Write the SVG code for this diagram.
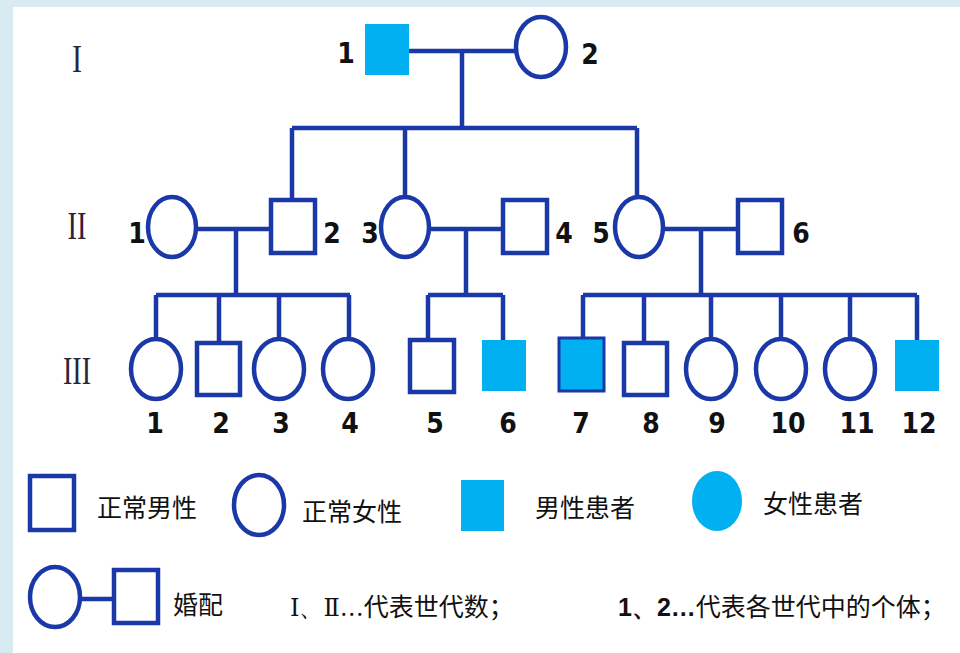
<svg xmlns="http://www.w3.org/2000/svg" width="960" height="653" viewBox="0 0 960 653">
<defs>
<style>
.ln{stroke:#1A38A8;stroke-width:4.5;fill:none}
.n{fill:#fff;stroke:#1A38A8;stroke-width:4.5}
.a{fill:#00B0F0}
.as{fill:#00B0F0;stroke:#1A38A8;stroke-width:3}
.num{font-family:"DejaVu Sans Condensed","Liberation Sans",sans-serif;font-stretch:condensed;font-weight:bold;font-size:28px;fill:#111;text-anchor:middle}
.rom{font-family:"Liberation Serif",serif;font-size:40px;fill:#2a2438;text-anchor:middle}
.lg{font-family:"Noto Sans CJK SC",sans-serif;font-size:25px;fill:#111}
</style>
</defs>
<rect width="960" height="653" fill="#D8EBF3"/>
<rect x="13" y="7" width="947" height="646" fill="#FFFFFF"/>

<g id="gen-labels">
<text class="rom" x="77" y="72" textLength="10" lengthAdjust="spacingAndGlyphs">I</text>
<text class="rom" x="77" y="239" textLength="19" lengthAdjust="spacingAndGlyphs">II</text>
<text class="rom" x="77" y="384" textLength="28" lengthAdjust="spacingAndGlyphs">III</text>
</g>

<g id="connectors">
<path class="ln" d="M409 51H515M462 51V128M292 128H637M292 128V200M405 128V195M637 128V195"/>
<path class="ln" d="M198 229H271M236 229V295M156 295H350M156 295V338M219 295V341M279 295V338M349 295V338"/>
<path class="ln" d="M431 229H502M466 229V295M428 295H503M428 295V339M503 295V340"/>
<path class="ln" d="M665 229H737M701 229V295M583 295H917M583 295V337M644 295V341M711 295V337M781 295V337M850 295V337M917 295V340"/>
</g>

<g id="I-1"><rect class="a" x="365" y="24" width="44" height="51"/><text class="num" x="346" y="63">1</text></g>
<g id="I-2"><ellipse class="n" cx="541" cy="47" rx="25" ry="30"/><text class="num" x="590" y="64">2</text></g>

<g id="II-1"><ellipse class="n" cx="172" cy="227" rx="24" ry="30"/><text class="num" x="137" y="243">1</text></g>
<g id="II-2"><rect class="n" x="271" y="200" width="44" height="53"/><text class="num" x="332" y="243">2</text></g>
<g id="II-3"><ellipse class="n" cx="405" cy="227" rx="24" ry="30"/><text class="num" x="370" y="243">3</text></g>
<g id="II-4"><rect class="n" x="503" y="200" width="44" height="53"/><text class="num" x="564" y="243">4</text></g>
<g id="II-5"><ellipse class="n" cx="639" cy="227" rx="24" ry="30"/><text class="num" x="601" y="243">5</text></g>
<g id="II-6"><rect class="n" x="738" y="200" width="44" height="53"/><text class="num" x="801" y="243">6</text></g>

<g id="III-1"><ellipse class="n" cx="156" cy="369" rx="25" ry="30"/><text class="num" x="155" y="433">1</text></g>
<g id="III-2"><rect class="n" x="197" y="343" width="43" height="52"/><text class="num" x="221" y="433">2</text></g>
<g id="III-3"><ellipse class="n" cx="279" cy="369" rx="25" ry="30"/><text class="num" x="281" y="433">3</text></g>
<g id="III-4"><ellipse class="n" cx="348" cy="369" rx="25" ry="30"/><text class="num" x="350" y="433">4</text></g>
<g id="III-5"><rect class="n" x="410" y="340" width="44" height="52"/><text class="num" x="435" y="433">5</text></g>
<g id="III-6"><rect class="a" x="482" y="340" width="44" height="51"/><text class="num" x="508" y="433">6</text></g>
<g id="III-7"><rect class="as" x="559" y="338" width="45" height="53"/><text class="num" x="581" y="433">7</text></g>
<g id="III-8"><rect class="n" x="624" y="343" width="43" height="52"/><text class="num" x="651" y="433">8</text></g>
<g id="III-9"><ellipse class="n" cx="711" cy="369" rx="25" ry="30"/><text class="num" x="717" y="433">9</text></g>
<g id="III-10"><ellipse class="n" cx="781" cy="369" rx="25" ry="30"/><text class="num" x="788" y="433">10</text></g>
<g id="III-11"><ellipse class="n" cx="850" cy="369" rx="25" ry="30"/><text class="num" x="857" y="433">11</text></g>
<g id="III-12"><rect class="a" x="895" y="340" width="44" height="51"/><text class="num" x="919" y="433">12</text></g>

<g id="legend">
<rect class="n" x="30" y="476" width="44" height="54"/>
<text class="lg" x="97" y="517">正常男性</text>
<ellipse class="n" cx="259" cy="505" rx="25" ry="30"/>
<text class="lg" x="302" y="521">正常女性</text>
<rect class="a" x="461" y="480" width="43" height="51"/>
<text class="lg" x="535" y="517">男性患者</text>
<ellipse class="a" cx="717" cy="501" rx="25" ry="30"/>
<text class="lg" x="763" y="513">女性患者</text>
<ellipse class="n" cx="55" cy="597" rx="25" ry="30"/>
<path class="ln" d="M80 599H114"/>
<rect class="n" x="114" y="570" width="44" height="53"/>
<text class="lg" x="173" y="614">婚配</text>
<text class="lg" x="290" y="616"><tspan font-family="DejaVu Serif, Liberation Serif, serif" font-size="24">Ⅰ、Ⅱ…</tspan>代表世代数；</text>
<text class="lg" x="618" y="616"><tspan font-family="Liberation Sans, sans-serif" font-weight="bold">1、2…</tspan>代表各世代中的个体；</text>
</g>
</svg>
